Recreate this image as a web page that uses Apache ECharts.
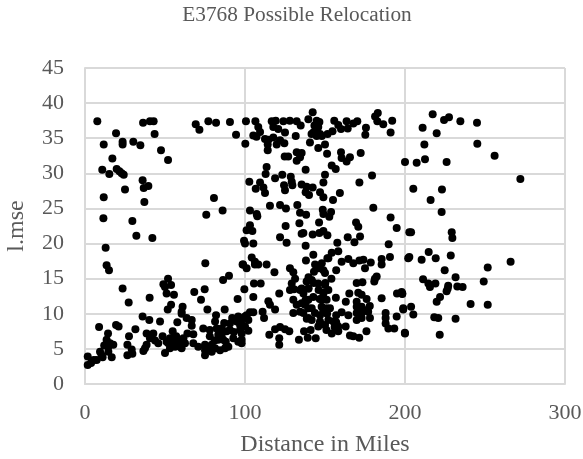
<!DOCTYPE html>
<html><head><meta charset="utf-8">
<script src="https://cdn.jsdelivr.net/npm/echarts@6/dist/echarts.min.js"></script>
<style>html,body{margin:0;padding:0;background:#fff}#c{width:583px;height:459px}</style>
</head><body><div id="c"></div>
<script>
const titleText = "E3768 Possible Relocation";
const xName = "Distance in Miles";
const yName = "l.mse";
const upperLeft = [[7.7,37.4],[19.4,35.7],[11.7,34.1],[23.5,34.5],[23.5,34.1],[30.2,34.5],[34.6,34],[36.3,37.2],[40.6,37.4],[42.9,37.4],[43.5,35.6],[47.5,33.3],[51.9,31.9],[17.1,32.1],[10.8,30.5],[15.2,29.9],[19.8,30.6],[21.5,30.3],[22.9,30],[24.2,29.8],[36,29],[36.7,27.9],[39.6,28.2],[25,27.7],[11.7,26.6],[37.1,25.9],[80.6,26.5],[86,24.7],[75.8,24.1],[11.5,23.6],[29.6,23.2],[32.1,21.1],[42.1,20.8],[12.9,19.4],[69.2,37],[71.5,36.2],[77.1,37.4],[81.9,37.2],[90.6,37.3],[94.4,35.5]];
const lowerLeft = [[13.5,16.9],[15,16.2],[75.2,17.2],[98.5,17],[23.5,13.6],[27.3,11.6],[40.4,12.3],[51.9,15],[49,14.2],[53.8,14.1],[50,13.8],[51,12.9],[55.6,12.7],[53.8,11.3],[51.7,10.6],[61,11],[60.4,10.3],[60.4,10],[68.3,13.1],[74.8,13.5],[72.5,12],[86.3,14.8],[90,15.4],[95.4,12.1],[76.5,10.6],[87.3,10.6],[81.9,9.8],[36,9.6],[40.2,9.1],[46.9,8.9],[57.7,8.8],[63.5,9.4],[66.7,9.1],[66.7,8.3],[8.8,8.1],[19.4,8.4],[21,8.2],[31.5,7.8],[27.5,6.8],[14.4,7.2],[13.5,6.3],[15.6,5.8],[17.7,5.6],[14.6,5.3],[14.6,4.6],[16.7,3.8],[9.4,4.6],[10.4,4.1],[7.3,3.4],[1.7,3.9],[1.7,2.7],[3.8,3],[26.5,5.6],[29.2,4.9],[26.5,4.1],[29.6,4.3],[38.5,7.2],[42.7,7.2],[40.6,6.5],[43.8,6.2],[45.8,5.8],[38.5,5.6],[37.5,5.1],[36.5,4.7],[54.8,7.5],[53.1,6.5],[55.2,6.5],[52.1,5.8],[54.2,5.6],[56.3,5.8],[61.5,6.5],[62.5,5.8],[59.4,5.3],[56.3,5.3],[53.1,5.1],[60.4,5.1],[50,4.4],[58.3,6],[51,6],[67.7,7.1],[67.7,5.8],[70.8,5.3],[73.9,7.9],[78,7.7],[75,5.6],[75,4.8],[75,4.1],[79.2,4.6],[81.3,5.1],[84.4,4.8],[87.5,5.1],[89.6,5.3],[83.3,6.3],[83.3,7],[82.3,7.9],[81.3,8.9],[85.4,7.9],[85.4,7],[90.6,8.6],[90.6,7.7],[95.8,9.6],[94.8,8.9],[96.9,7.7],[97.9,6.3],[95.8,6],[100,9.6],[100,8.2],[88.5,7.5],[86.4,6.3],[92.7,6.5],[79.2,5.6],[77,4.8],[87,8.7],[92,9.4],[97.5,8.8],[88,6],[81,6.2],[78,6.8],[93,7.4],[57,6.8],[64,7.2],[48.5,6.8],[12,5.5],[11,3.8],[5.5,3.4]];
const upperMiddle = [[100.6,37.4],[106.5,37.4],[108.3,36.6],[109.4,35.9],[105.2,35.4],[107.2,35.2],[100.2,34.2],[116.7,37.4],[119.2,37.5],[117.7,36.6],[120.8,36.3],[124,37.4],[128,37.5],[132.3,37.4],[134.8,36.8],[125,35.8],[131.7,35.3],[112.5,34.9],[114.6,34.8],[117.7,35.1],[119.8,34.1],[121.9,34.7],[124.6,34.3],[114.2,34.1],[114.2,33.3],[124.8,32.4],[127,32.4],[132.3,33],[135.4,32.9],[134.4,32.3],[132.3,31.8],[140.6,34.4],[145.8,33.6],[150,34.1],[151.3,32.8],[139.6,37.7],[142.3,38.7],[144.8,37.5],[146.5,37.3],[143.4,36.8],[145.8,36.6],[145,36.1],[142.7,35.8],[146.9,35.6],[144.8,35.3],[148,35.3],[141.6,35.6],[143.8,36],[151.6,35.6],[154.7,36],[155.8,37.5],[158.3,36.9],[160,36.3],[163.5,37.4],[164.2,36.4],[167.7,37.1],[170.2,37.4],[175.6,36.5],[175.2,35.5],[183,38.6],[181.3,38.1],[182.7,37.4],[186.4,37],[192,37.5],[191,35.8],[160,33],[160.4,32.2],[163.5,31.7],[165.6,32.3],[172.3,32.9],[200,31.6],[154.2,31.1],[156.7,30.6],[137.9,30.5],[113.5,30.9],[112.9,29.9],[150,29.8],[179.4,29.7],[171.5,28.7],[102.7,28.8],[118.8,29.3],[123.3,29.8],[128.6,29.5],[129.2,28.8],[129.6,28.3],[109.4,28.7],[111.5,28],[106.7,27.8],[112.5,27.2],[124.4,28.3],[125,27.6],[135.4,28.4],[138.5,28.1],[142.3,28],[137.9,27.3],[140,26.9],[149,28.7],[146.9,27.3],[149,26.6],[155,26.2],[159.3,27.2],[115.6,25.4],[121.9,25.5],[125.6,25],[132.7,25.5],[134.4,24.4],[138.2,24.1],[148.6,24.8],[149,24.2],[153.8,24.5],[152.7,23.8],[180.2,25.1],[191,23.7],[194.8,22.2],[202.7,21.6],[103.1,24.7],[107.3,24.2],[107.7,23.9],[103.1,22.6],[101,21.9],[104.6,21.8],[99.4,20.4],[100,20],[105.2,20],[125.4,22.5],[134,22.9],[146.3,23],[136.5,21.5],[135.4,21.4],[142.3,21.3],[146.5,21.5],[149,21.8],[151.5,21.2],[121.9,20.9],[126,20.1],[137.9,19.7],[157.7,20.1],[164.2,20.9],[168.4,20.2],[171.9,21],[169.4,23],[170.8,22.4],[189.8,19.9]];
const lowerMiddle = [[104.2,18],[106.2,17.4],[106.2,17],[108.3,17],[113.5,17],[98.8,17],[101,16.5],[118.4,15.9],[128.1,16.5],[130.2,15.9],[131.3,15],[129.2,14.3],[128.1,13.4],[130.6,13.5],[105.6,14.3],[109.8,14.3],[99.6,13.5],[105.2,12.4],[121.4,12.9],[114.6,11.8],[115.6,11.3],[118.8,10.6],[111,10.3],[111.9,9.4],[103.1,10.2],[105.2,10.2],[101,9.8],[102.1,9.1],[99,9.4],[96.9,8.4],[102.1,7.6],[97.9,7.2],[97.9,5.8],[115.2,7],[118.8,7.8],[121.9,8.1],[125,7.8],[127.7,7.5],[121.4,6.5],[121.4,5.6],[130.2,10.1],[133.7,6.3],[139.2,6.6],[144.2,6.5],[136.9,7.5],[141,7.7],[130.2,12],[138.1,17.6],[142.7,18.4],[151.5,17.9],[154.2,18.7],[158.3,18.9],[148,17.2],[143.8,17],[146,16.5],[143.1,16],[149,16.2],[150,15.8],[152.1,17.9],[157,16.2],[154,15],[160.4,17.4],[164.6,17.8],[167.7,17.2],[171.5,17.6],[174,17.7],[178.6,17.3],[175,16.5],[185.4,17.8],[185.4,17],[190.6,18.1],[202,17.9],[169.8,14.4],[173.4,14.5],[181.2,15],[182.3,15.3],[180.8,14.6],[165.2,12.9],[163,11.7],[156.8,12.3],[170.8,13],[172.9,12.7],[169.8,11.7],[176,12.1],[169.8,11],[172.9,11],[178,11.1],[177,10.3],[169.8,10.1],[172.9,10.1],[175,10.5],[169.8,9.1],[172.9,9.4],[178.1,9.4],[164.6,9.8],[160.4,10.2],[157,9.8],[185.4,12.2],[195,12.9],[198.3,12.9],[187.9,10.1],[187.9,9.4],[187.9,8.6],[189.6,7.9],[193.3,7.9],[194.8,9.6],[198.9,10.6],[200,7.2],[175.9,7.5],[165.6,6.9],[167.7,6.8],[171.4,6.6],[162.9,8.2],[135.4,13.6],[138.5,14.6],[141.7,14.8],[145.8,14.3],[150,14.1],[152.1,13.4],[149,12.9],[147.9,12],[147.9,11],[149,10.3],[151,10.8],[153.1,10.8],[142.7,12.4],[139.6,12],[137.5,11.3],[139.6,10.8],[136.5,10.1],[141.7,10.8],[139.6,9.4],[141.7,9.1],[146.9,9.8],[146.9,8.9],[145.8,8.2],[150,8.4],[152.1,9.1],[155.2,8.9],[157.3,8.2],[158.3,7.5],[150.9,7.7],[154.2,7.2],[158.3,8.2],[134.4,13.4],[136.5,12.9],[139.6,13.6],[132.3,11.3],[135.4,11.5],[137.9,12],[134.4,10.3],[146,13.4],[151,12],[143.7,10.1],[139.7,13.6],[146.7,12.1],[149,13],[150.2,14.4],[143,14.4],[139.7,15.2],[138.6,9.3],[146.7,8.6],[156,8.1],[157,8.8],[151.3,10],[149,10.7],[138.5,11.9]];
const right = [[217.3,38.4],[224.4,37.6],[227.5,38],[234.6,37.4],[245,37.2],[211,36.5],[219.8,35.7],[212.1,34.1],[245.2,34.2],[256,32.5],[207.3,31.5],[212.5,32],[226,31.6],[272.1,29.2],[205.2,27.8],[223.1,27.7],[216,26.2],[222.9,24.5],[203.8,21.6],[229.2,21.6],[229.6,20.8],[202.7,18.1],[210.4,17.7],[214.8,18.8],[219.2,17.9],[228.6,18.3],[266,17.4],[251.7,16.6],[224.8,16.2],[231.6,15.2],[211.3,14.9],[249.2,14.6],[214.6,14.3],[215.6,13.8],[219,14.3],[227,14],[226.7,13.6],[226,13.2],[232.7,13.9],[236,13.8],[221.9,12.4],[219.8,11.7],[197.9,13.1],[198.3,12.8],[241,11.4],[251.7,11.3],[198.9,10.8],[203.8,11],[205.2,9.9],[218.3,9.5],[220.8,9.4],[231.6,9.3],[199.9,7.3],[221.7,7]];
const points = [].concat(upperLeft, lowerLeft, upperMiddle, lowerMiddle, right);
const font = "'Liberation Serif','Times New Roman',serif";
const grid = {show:true, lineStyle:{color:'#d9d9d9', width:2}};
const chart = echarts.init(document.getElementById('c'), null, {renderer:'canvas'});
chart.setOption({
  animation:false,
  backgroundColor:'#fff',
  title:{text:titleText, left:292, top:0, textAlign:'center', textStyle:{fontFamily:font, fontSize:21.3, fontWeight:'normal', color:'#595959'}},
  grid:{left:85, right:18, top:68, bottom:75, outerBoundsMode:'none'},
  xAxis:{type:'value', min:0, max:300, interval:100, name:xName, nameLocation:'middle', nameGap:49,
    nameTextStyle:{fontFamily:font, fontSize:24, color:'#595959'},
    axisLine:{show:true, onZero:false, lineStyle:{color:'#d9d9d9', width:2}}, axisTick:{show:false},
    axisLabel:{fontFamily:font, fontSize:22, color:'#595959', margin:18}, splitLine:grid},
  yAxis:{type:'value', min:0, max:45, interval:5, name:yName, nameLocation:'middle', nameGap:56,
    nameTextStyle:{fontFamily:font, fontSize:24, color:'#595959'},
    axisLine:{show:true, lineStyle:{color:'#d9d9d9', width:2}}, axisTick:{show:false},
    axisLabel:{fontFamily:font, fontSize:22, color:'#595959', margin:21}, splitLine:grid},
  series:[{type:'scatter', data:points, symbol:'circle', symbolSize:8, itemStyle:{color:'#000', opacity:1}, clip:false}]
});
</script></body></html>
